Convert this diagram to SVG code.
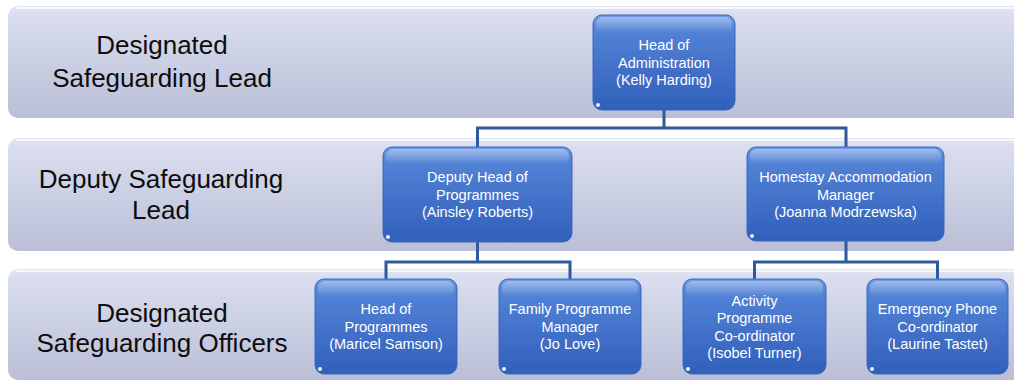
<svg xmlns="http://www.w3.org/2000/svg" width="1014" height="381" viewBox="0 0 1014 381">
<defs>
<linearGradient id="bandG" x1="0" y1="0" x2="0" y2="1">
<stop offset="0" stop-color="#E2E5F2"/>
<stop offset="0.08" stop-color="#D9DDEE"/>
<stop offset="1" stop-color="#BABFD7"/>
</linearGradient>
<linearGradient id="nodeG" x1="0" y1="0" x2="0" y2="1">
<stop offset="0" stop-color="#6F9AE2"/>
<stop offset="0.15" stop-color="#5283D6"/>
<stop offset="0.6" stop-color="#416FC8"/>
<stop offset="1" stop-color="#3060BA"/>
</linearGradient>
<linearGradient id="glossG" x1="0" y1="0" x2="0" y2="1">
<stop offset="0" stop-color="#FFFFFF" stop-opacity="0.35"/>
<stop offset="1" stop-color="#FFFFFF" stop-opacity="0"/>
</linearGradient>
<linearGradient id="rightG" x1="0" y1="0" x2="0" y2="1">
<stop offset="0" stop-color="#FFFFFF" stop-opacity="0.3"/>
<stop offset="0.5" stop-color="#FFFFFF" stop-opacity="0.95"/>
<stop offset="1" stop-color="#FFFFFF" stop-opacity="0.3"/>
</linearGradient>
</defs>
<style>
.band{fill:url(#bandG);}
.bandHi{fill:#FFFFFF;opacity:0.75;}
.bandTxt{font-family:"Liberation Sans",Arial,sans-serif;font-size:26px;fill:#0D0D0D;text-anchor:middle;}
.nb{fill:url(#nodeG);stroke:#3A66B8;stroke-width:1;}
.gloss{fill:url(#glossG);}
.hl{stroke:url(#rightG);stroke-width:2.2;stroke-linecap:round;fill:none;}
.dot{fill:#FFFFFF;opacity:0.9;}
.nt{font-family:"Liberation Sans",Arial,sans-serif;font-size:14.5px;fill:#FFFFFF;text-anchor:middle;}
.conn{fill:none;stroke:#2F5A9C;stroke-width:3;}
</style>

<g id="bands">
<g id="band-lead">
<rect class="band" x="8" y="6" width="1030" height="112" rx="10"/>
<rect class="bandHi" x="16" y="7" width="1010" height="2"/>
<text class="bandTxt" x="162" y="54">Designated</text>
<text class="bandTxt" x="162" y="87">Safeguarding Lead</text>
</g>
<g id="band-deputy">
<rect class="band" x="8" y="138" width="1030" height="113" rx="10"/>
<rect class="bandHi" x="16" y="139" width="1010" height="2"/>
<text class="bandTxt" x="161" y="188">Deputy Safeguarding</text>
<text class="bandTxt" x="161" y="219">Lead</text>
</g>
<g id="band-officers">
<rect class="band" x="8" y="269" width="1030" height="111" rx="10"/>
<rect class="bandHi" x="16" y="270" width="1010" height="2"/>
<text class="bandTxt" x="162" y="322">Designated</text>
<text class="bandTxt" x="162" y="352">Safeguarding Officers</text>
</g>
</g>

<g id="connectors">
<path class="conn" d="M664 110 V128 M477.5 147 V128 H846 V147"/>
<path class="conn" d="M477.5 242 V262 M386 279 V262 H570 V279"/>
<path class="conn" d="M846 241 V262 M754.5 279 V262 H937.5 V279"/>
</g>

<g id="node-head-admin">
<rect class="nb" x="593" y="15" width="142" height="95" rx="9"/>
<rect class="gloss" x="596" y="17" width="136" height="16" rx="7"/>
<line class="hl" x1="731.5" y1="24" x2="731.5" y2="101"/>
<circle class="dot" cx="598" cy="105" r="2"/>
<text class="nt" x="664" y="50">Head of</text>
<text class="nt" x="664" y="67.5">Administration</text>
<text class="nt" x="664" y="85">(Kelly Harding)</text>
</g>

<g id="node-deputy-head">
<rect class="nb" x="383" y="147" width="189" height="95" rx="9"/>
<rect class="gloss" x="386" y="149" width="183" height="16" rx="7"/>
<line class="hl" x1="568.5" y1="156" x2="568.5" y2="233"/>
<circle class="dot" cx="388" cy="237" r="2"/>
<text class="nt" x="477.5" y="182">Deputy Head of</text>
<text class="nt" x="477.5" y="199.5">Programmes</text>
<text class="nt" x="477.5" y="217">(Ainsley Roberts)</text>
</g>

<g id="node-homestay">
<rect class="nb" x="747" y="147" width="197" height="94" rx="9"/>
<rect class="gloss" x="750" y="149" width="191" height="16" rx="7"/>
<line class="hl" x1="940.5" y1="156" x2="940.5" y2="232"/>
<circle class="dot" cx="752" cy="236" r="2"/>
<text class="nt" x="845.5" y="182">Homestay Accommodation</text>
<text class="nt" x="845.5" y="199.5">Manager</text>
<text class="nt" x="845.5" y="217">(Joanna Modrzewska)</text>
</g>

<g id="node-head-programmes">
<rect class="nb" x="315" y="279" width="142" height="95" rx="9"/>
<rect class="gloss" x="318" y="281" width="136" height="16" rx="7"/>
<line class="hl" x1="453.5" y1="288" x2="453.5" y2="365"/>
<circle class="dot" cx="320" cy="369" r="2"/>
<text class="nt" x="386" y="314">Head of</text>
<text class="nt" x="386" y="331.5">Programmes</text>
<text class="nt" x="386" y="349">(Maricel Samson)</text>
</g>

<g id="node-family">
<rect class="nb" x="499" y="279" width="142" height="95" rx="9"/>
<rect class="gloss" x="502" y="281" width="136" height="16" rx="7"/>
<line class="hl" x1="637.5" y1="288" x2="637.5" y2="365"/>
<circle class="dot" cx="504" cy="369" r="2"/>
<text class="nt" x="570" y="314">Family Programme</text>
<text class="nt" x="570" y="331.5">Manager</text>
<text class="nt" x="570" y="349">(Jo Love)</text>
</g>

<g id="node-activity">
<rect class="nb" x="683" y="279" width="143" height="95" rx="9"/>
<rect class="gloss" x="686" y="281" width="137" height="16" rx="7"/>
<line class="hl" x1="822.5" y1="288" x2="822.5" y2="365"/>
<circle class="dot" cx="688" cy="369" r="2"/>
<text class="nt" x="754.5" y="305.5">Activity</text>
<text class="nt" x="754.5" y="323">Programme</text>
<text class="nt" x="754.5" y="340.5">Co-ordinator</text>
<text class="nt" x="754.5" y="358">(Isobel Turner)</text>
</g>

<g id="node-emergency">
<rect class="nb" x="867" y="279" width="141" height="95" rx="9"/>
<rect class="gloss" x="870" y="281" width="135" height="16" rx="7"/>
<line class="hl" x1="1004.5" y1="288" x2="1004.5" y2="365"/>
<circle class="dot" cx="872" cy="369" r="2"/>
<text class="nt" x="937.5" y="314">Emergency Phone</text>
<text class="nt" x="937.5" y="331.5">Co-ordinator</text>
<text class="nt" x="937.5" y="349">(Laurine Tastet)</text>
</g>
</svg>
